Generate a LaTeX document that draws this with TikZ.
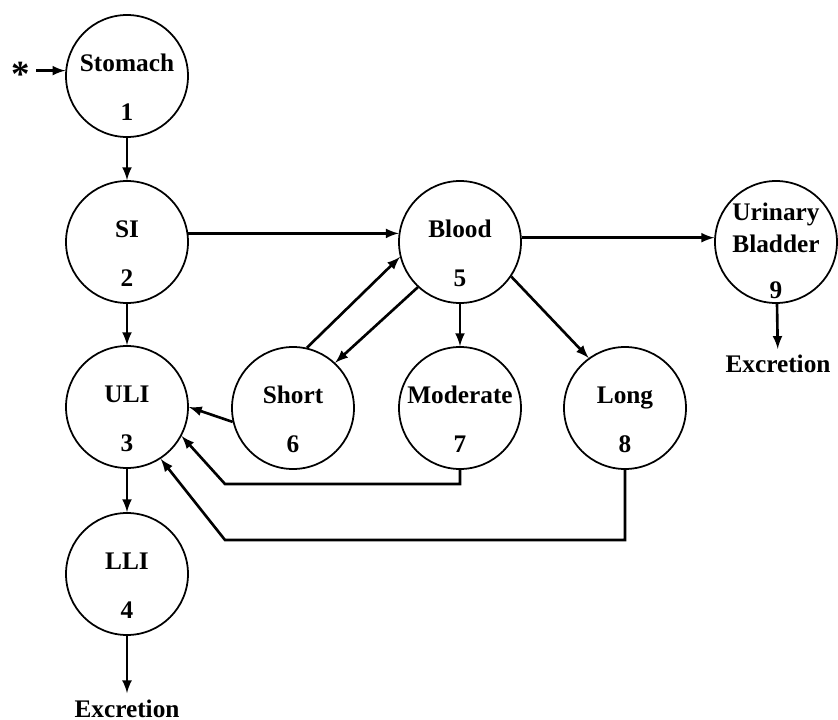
\documentclass[tikz,border=0pt]{standalone}
\usepackage{fontspec}
\setmainfont{Liberation Serif}
\usepackage{tikz}
\usetikzlibrary{arrows,calc}

\tikzset{
  organ/.style={circle,draw,line width=1pt,minimum size=2.44cm,inner sep=0pt},
  lab/.style={anchor=base,inner sep=0pt},
  flow/.style={->,>=latex,line width=1.5pt}
}

\begin{document}
\begin{tikzpicture}[font=\fontsize{14.4}{17}\selectfont\bfseries]
      \useasboundingbox (0,0) rectangle (16.76,-14.4);
      \def\up{0.1}
      \def\dn{-0.88}
      % compartments
      \node[organ] (stomach) at (2.54,-1.52) {};
      \node[organ] (si) at (2.54,-4.84) {};
      \node[organ] (uli) at (2.54,-8.14) {};
      \node[organ] (lli) at (2.54,-11.48) {};
      \node[organ] (blood) at (9.2,-4.84) {};
      \node[organ] (short) at (5.86,-8.16) {};
      \node[organ] (moderate) at (9.2,-8.16) {};
      \node[organ] (long) at (12.5,-8.16) {};
      \node[organ] (bladder) at (15.52,-4.84) {};
      % names and numbers
      \node[lab] (stomachT) at ($(stomach)+(0,\up)$) {Stomach};
      \node[lab] (stomachN) at ($(stomach)+(0,\dn)$) {1};
      \node[lab] (siT) at ($(si)+(0,\up)$) {SI};
      \node[lab] (siN) at ($(si)+(0,\dn)$) {2};
      \node[lab] (uliT) at ($(uli)+(0,\up)$) {ULI};
      \node[lab] (uliN) at ($(uli)+(0,\dn)$) {3};
      \node[lab] (lliT) at ($(lli)+(0,\up)$) {LLI};
      \node[lab] (lliN) at ($(lli)+(0,\dn)$) {4};
      \node[lab] (bloodT) at ($(blood)+(0,\up)$) {Blood};
      \node[lab] (bloodN) at ($(blood)+(0,\dn)$) {5};
      \node[lab] (shortT) at ($(short)+(0,\up)$) {Short};
      \node[lab] (shortN) at ($(short)+(0,\dn)$) {6};
      \node[lab] (moderateT) at ($(moderate)+(0,\up)$) {Moderate};
      \node[lab] (moderateN) at ($(moderate)+(0,\dn)$) {7};
      \node[lab] (longT) at ($(long)+(0,\up)$) {Long};
      \node[lab] (longN) at ($(long)+(0,\dn)$) {8};
      \node[lab] (bladderT) at ($(bladder)+(0,0.44)$) {Urinary};
      \node[lab] (bladderB) at ($(bladder)+(0,-0.2)$) {Bladder};
      \node[lab] (bladderN) at ($(bladder)+(0,-1.12)$) {9};
      % input and outputs
      \node[font=\fontsize{21}{21}\selectfont\bfseries] (star) at (0.42,-1.48) {*};
      \node[anchor=base] (exc1) at (2.54,-14.34) {Excretion};
      \node (exc2) at (15.56,-7.28) {Excretion};
      \coordinate (bendM) at (4.5,-9.68);
      \coordinate (bendL) at (4.5,-10.8);

      \draw[flow] (star.east |- stomach.175) -- (stomach.175);
      \draw[flow] (stomach) -- (si);
      \draw[flow] (si) -- (uli);
      \draw[flow] (uli) -- (lli);
      \draw[flow] (lli) -- (exc1);
      \draw[flow] (si.8) -- (blood.172);
      \draw[flow] (blood.4) -- (bladder.176);
      \draw[flow] (bladder) -- (exc2);
      \draw[flow] (short.77) -- (blood.194);
      \draw[flow] (blood.227) -- (short.47);
      \draw[flow] (blood) -- (moderate);
      \draw[flow] (blood.-34) -- (long.126);
      \draw[flow] (short.193) -- (uli.0);
      \draw[flow] (moderate.south) |- (bendM) -- (uli.-28);
      \draw[flow] (long.south) |- (bendL) -- (uli.-57);
\end{tikzpicture}
\end{document}
